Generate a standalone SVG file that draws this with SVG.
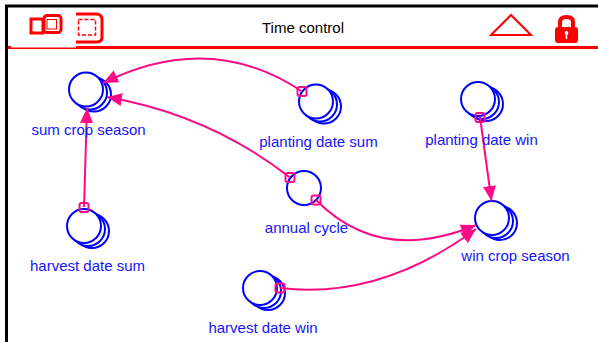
<svg xmlns="http://www.w3.org/2000/svg" width="598" height="342" viewBox="0 0 598 342">
<defs>
<g id="stack"><circle cx="8" cy="5" r="17"/><circle cx="4" cy="3" r="17"/><circle cx="0" cy="0" r="17" fill="#fff"/></g>
<marker id="ah" markerUnits="userSpaceOnUse" markerWidth="16" markerHeight="14" refX="15" refY="6.500" orient="auto"><path d="M0 0L15 6.500L0 13z" fill="#ff0a84"/></marker>
</defs>
<style>
.n{fill:#fff;stroke:#0000ff;stroke-width:2}
.l{font:15px "Liberation Sans",Arial,sans-serif;fill:#1414ff;text-anchor:middle}
.c{fill:none;stroke:#ff0a84;stroke-width:2}
.a{marker-end:url(#ah)}
.o{fill:none;stroke:#ff0a84;stroke-width:2}
.x{stroke:#0000ff;stroke-width:1.500}
.r{fill:none;stroke:#ff0000}
</style>
<rect width="598" height="342" fill="#fff"/>
<g id="frame">
<path d="M6.500 342V6H598" fill="none" stroke="#000" stroke-width="3"/>
<path d="M8 47.500H598" stroke="#ff0000" stroke-width="3"/>
<rect x="11" y="44" width="65" height="3.500" fill="#fff"/>
</g>
<g id="toolbar">
<path d="M76 14H96Q102 14 102 20V37Q102 42 97 42H76" class="r" stroke-width="3"/>
<rect x="78.500" y="19.500" width="17" height="15.500" fill="none" stroke="#ff0000" stroke-width="1.500" stroke-dasharray="4 2"/>
<rect x="31" y="19" width="12" height="14" class="r" stroke-width="3"/>
<rect x="44" y="15.500" width="17" height="17" rx="3" class="r" stroke-width="3"/>
<rect x="47" y="19.500" width="9.500" height="9.500" class="r" stroke-width="1"/>
<path d="M491 35L511 15L531 35Z" class="r" stroke-width="2"/>
<path d="M560 28V22Q560 17 566.500 17Q573 17 573 22V28" fill="none" stroke="#ff0000" stroke-width="4"/>
<rect x="555" y="27" width="23" height="16" rx="3" fill="#ff0000"/>
<path d="M566.500 31V39" stroke="#fff" stroke-width="1.500"/><circle cx="566.500" cy="33" r="1.800" fill="#fff"/>
<text x="303" y="33" style="font:15px 'Liberation Sans',Arial,sans-serif;fill:#000;text-anchor:middle">Time control</text>
</g>
<g id="sum-crop-season" class="n"><use href="#stack" x="86" y="89.500"/></g>
<g id="planting-date-sum" class="n"><use href="#stack" x="316" y="101.500"/></g>
<g id="planting-date-win" class="n"><use href="#stack" x="478" y="99"/></g>
<g id="annual-cycle" class="n"><circle cx="304" cy="188" r="17"/></g>
<g id="win-crop-season" class="n"><use href="#stack" x="492" y="218"/></g>
<g id="harvest-date-sum" class="n"><use href="#stack" x="84" y="226"/></g>
<g id="harvest-date-win" class="n"><use href="#stack" x="260" y="288"/></g>
<g id="connectors">
<path class="c a" d="M302 91.500Q210 30 103 83"/>
<path class="c a" d="M290 177.500Q210 115 107 97"/>
<path class="c a" d="M84 207L87 108"/>
<path class="c a" d="M480 117L491.500 201"/>
<path class="c a" d="M316 200Q380 265 476 225"/>
<path class="c a" d="M280 288Q380 300 476 229"/>
<rect class="o" x="297.500" y="87" width="9" height="9" rx="2"/>
<rect class="o" x="285.500" y="173" width="9" height="9" rx="2"/>
<rect class="o" x="311.500" y="195.500" width="9" height="9" rx="2"/>
<rect class="o" x="79.500" y="203" width="9" height="9" rx="2"/>
<rect class="o" x="475.500" y="113" width="9" height="9" rx="2"/>
<rect class="o" x="275.500" y="283.500" width="9" height="9" rx="2"/>
</g>
<g id="labels">
<text class="l" x="88.500" y="135">sum crop season</text>
<text class="l" x="318.500" y="147">planting date sum</text>
<text class="l" x="481.500" y="145">planting date win</text>
<text class="l" x="306.500" y="233">annual cycle</text>
<text class="l" x="515.500" y="261">win crop season</text>
<text class="l" x="87.500" y="271">harvest date sum</text>
<text class="l" x="263" y="333">harvest date win</text>
</g>
</svg>
